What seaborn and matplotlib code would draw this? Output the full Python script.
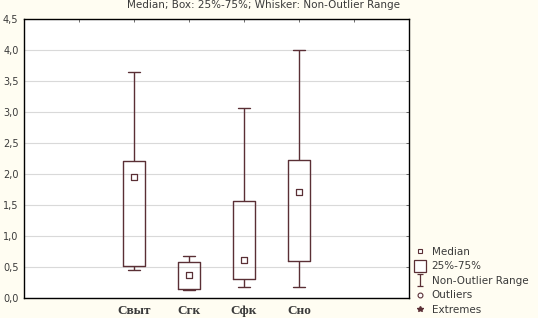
import matplotlib
matplotlib.use("Agg")
import matplotlib.pyplot as plt
from matplotlib.lines import Line2D
from matplotlib.path import Path
import seaborn as sns
import pandas as pd

categories = ["Cвыт", "Cгк", "Cфк", "Cно"]
whisker_low = [0.44, 0.13, 0.18, 0.18]
q1 = [0.51, 0.145, 0.30, 0.59]
median = [1.955, 0.36, 0.61, 1.70]
q3 = [2.215, 0.58, 1.56, 2.225]
whisker_high = [3.65, 0.68, 3.07, 4.00]
y_ticks = [0.0, 0.5, 1.0, 1.5, 2.0, 2.5, 3.0, 3.5, 4.0, 4.5]
title = "Median; Box: 25%-75%; Whisker: Non-Outlier Range"
legend_labels = ["Median", "25%-75%", "Non-Outlier Range", "Outliers", "Extremes"]

# five summary points per category reproduce the exact box statistics
rows = []
for c, a, b, m, d, e in zip(categories, whisker_low, q1, median, q3, whisker_high):
    for v in (a, b, m, d, e):
        rows.append({"cat": c, "val": v})
df = pd.DataFrame(rows)
med_df = pd.DataFrame({"cat": categories, "val": median})

sns.set_style("white")
plt.rcParams["font.family"] = ["DejaVu Sans"]

bg = "#fffdf2"
line_col = "#5a2f35"
text_col = "#3a3a3a"
fig = plt.figure(figsize=(5.38, 3.18), dpi=100, facecolor=bg)
ax = fig.add_axes([24 / 538, 20.3 / 318, 385 / 538, 278.6 / 318])
ax.set_facecolor("white")

sns.boxplot(data=df, x="cat", y="val", order=categories, whis=(0, 100),
            fill=False, color=line_col, linewidth=1.0, width=0.41,
            capwidths=0.23, medianprops={"visible": False}, ax=ax)
sns.scatterplot(data=med_df, x="cat", y="val", marker="s", s=14,
                facecolor="white", edgecolor=line_col, linewidth=0.9,
                zorder=5, ax=ax, legend=False)

ax.set_xlim(-2, 5)
ax.set_ylim(0, 4.5)
ax.set_yticks(y_ticks)
ax.set_yticklabels([f"{t:.1f}".replace(".", ",") for t in y_ticks],
                   fontsize=7, color=text_col)
ax.set_xticks(range(len(categories)))
ax.set_xticklabels(categories, fontsize=9.5, fontweight="bold",
                   family="Liberation Serif", color=text_col)
ax.set_xlabel("")
ax.set_ylabel("")
ax.yaxis.grid(True, color="#d9d9d9", linewidth=0.8)
ax.set_axisbelow(True)
for s in ax.spines.values():
    s.set_visible(True)
    s.set_color("black")
    s.set_linewidth(1.0)
ax.tick_params(axis="both", direction="in", length=2.5, width=0.6, color="#555555")
ax.tick_params(axis="y", right=True, pad=4)
ax.tick_params(axis="x", pad=5)
sec = ax.secondary_xaxis("top")
sec.set_xticks([-1, 0, 1, 2, 3, 4])
sec.set_xticklabels([])
sec.tick_params(direction="in", length=2.5, width=0.6, color="#555555")
sec.spines["top"].set_visible(False)

fig.text(263.5 / 538, 1 - 5 / 318, title, ha="center", va="center",
         fontsize=7.5, color=text_col)

range_marker = Path([(-0.5, 1), (0.5, 1), (0, 1), (0, -1), (-0.5, -1), (0.5, -1)],
                    [Path.MOVETO, Path.LINETO, Path.MOVETO, Path.LINETO,
                     Path.MOVETO, Path.LINETO])
handles = [
    Line2D([], [], marker="s", linestyle="none", markersize=3.5,
           markerfacecolor="white", markeredgecolor=line_col, markeredgewidth=0.8),
    Line2D([], [], marker="s", linestyle="none", markersize=8.5,
           markerfacecolor="white", markeredgecolor=line_col, markeredgewidth=0.9),
    Line2D([], [], marker=range_marker, linestyle="none", markersize=9,
           markerfacecolor="none", markeredgecolor=line_col, markeredgewidth=0.9),
    Line2D([], [], marker="o", linestyle="none", markersize=3.5,
           markerfacecolor="white", markeredgecolor=line_col, markeredgewidth=0.8),
    Line2D([], [], marker="*", linestyle="none", markersize=4, color=line_col),
]
fig.legend(handles, legend_labels, loc="lower left",
           bbox_to_anchor=(405 / 538, -0.012),
           frameon=False, fontsize=7.5, handlelength=1.5, handletextpad=0.35,
           labelspacing=0.42, borderpad=0.2, labelcolor=text_col)

fig.savefig("out.png", dpi=100, facecolor=bg)
